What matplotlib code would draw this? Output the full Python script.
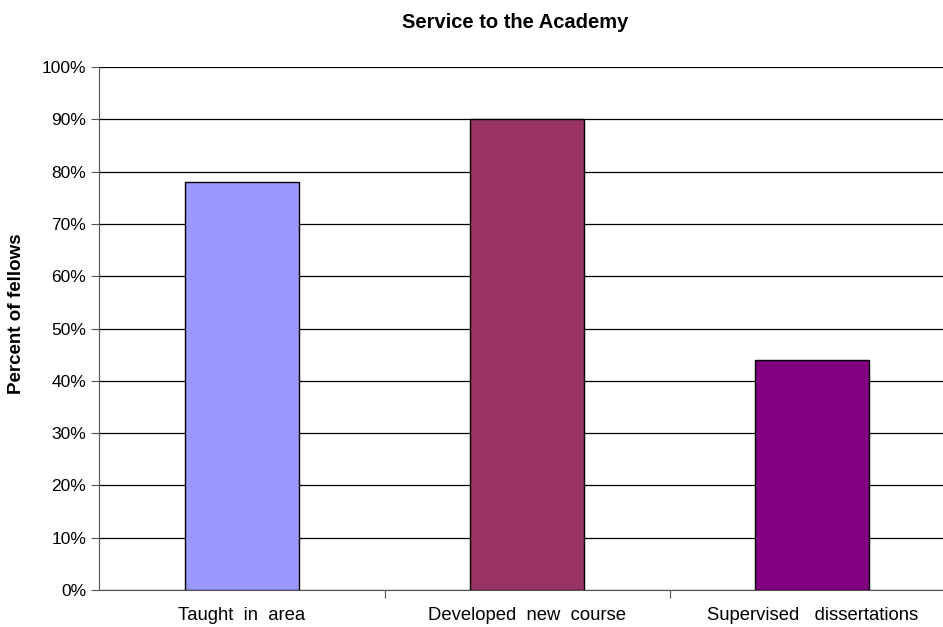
import matplotlib
matplotlib.use('Agg')
import matplotlib.pyplot as plt
from matplotlib.ticker import PercentFormatter

# chart data
categories = ['Taught  in  area', 'Developed  new  course', 'Supervised   dissertations']
percents = [78, 90, 44]
colors = ['#9999FF', '#993366', '#800080']


def plot_graph():
    plt.rcParams['font.family'] = ['Liberation Sans', 'DejaVu Sans']
    fig = plt.figure(figsize=(9.43, 6.27), dpi=100)
    # plot area runs slightly past the right edge of the picture
    ax = fig.add_axes([0.1055, 0.059, 0.907, 0.834])

    x = list(range(len(categories)))
    ax.bar(x, percents, width=0.40, color=colors, edgecolor='black',
           linewidth=1.0, zorder=3)

    ax.set_xlim(-0.5, len(categories) - 0.5)
    ax.set_ylim(0, 100)
    ax.set_yticks(range(0, 101, 10))
    ax.yaxis.set_major_formatter(PercentFormatter(decimals=0))
    ax.yaxis.grid(True, color='black', linewidth=0.9, zorder=0)

    # category labels sit between the boundary ticks
    ax.set_xticks([i + 0.5 for i in x[:-1]])
    ax.set_xticklabels([])
    ax.set_xticks(x, minor=True)
    ax.set_xticklabels(categories, minor=True)
    ax.tick_params(axis='x', which='minor', length=0, pad=12, labelsize=13.3)
    ax.tick_params(axis='x', which='major', length=6, color='#555555')
    ax.tick_params(axis='y', length=6, labelsize=12.5, color='#555555')

    for side in ['top', 'right']:
        ax.spines[side].set_visible(False)
    ax.spines['left'].set_color('#555555')
    ax.spines['bottom'].set_color('#555555')

    fig.text(0.546, 0.964, 'Service to the Academy', ha='center', va='center',
             fontsize=14.5, fontweight='bold')
    fig.text(0.017, 0.50, 'Percent of fellows', ha='center', va='center',
             rotation=90, fontsize=13.5, fontweight='bold')

    fig.savefig('out.png', dpi=100, facecolor='white')


if __name__ == "__main__":
    plot_graph()
